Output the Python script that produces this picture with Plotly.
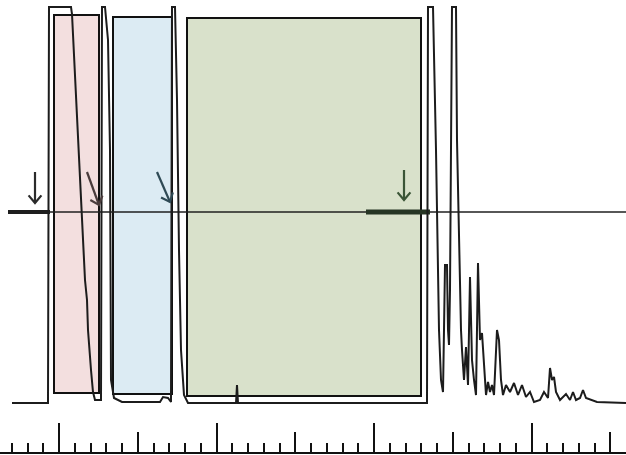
import math
import plotly.graph_objects as go

# Chromatogram trace (x: chart distance units, y: detector signal, baseline = 0)
trace_x = [12, 48, 49, 71, 72, 76, 80, 83, 85, 87, 88, 91, 93, 95, 101, 102, 105, 108, 110, 111, 114, 122,
           160, 163, 168, 171, 172, 175, 177, 179, 181, 184, 188, 236, 237, 238, 427,
           428, 433, 436, 439, 441, 443, 444, 445, 447, 448, 449, 450, 452, 456, 457, 459, 461, 462, 464,
           466, 468, 470, 472, 474, 476, 478, 480, 482, 484, 486, 488, 490, 492, 494, 497, 499, 501, 503,
           506, 510, 514, 518, 522, 526, 530, 534, 540, 544, 548, 550, 552, 554, 556, 560, 566, 570, 573,
           576, 580, 583, 586, 592, 597, 626]
trace_y = [0, 0, 396, 396, 389, 303, 233, 163, 123, 103, 73, 33, 11, 3, 3, 396, 396, 363, 253, 23, 5, 1,
           1, 6, 5, 1, 396, 396, 303, 153, 53, 8, 0, 0, 18, 0, 0,
           396, 396, 253, 73, 23, 11, 73, 138, 138, 73, 58, 113, 396, 396, 263, 153, 73, 53, 23,
           56, 18, 126, 43, 23, 8, 140, 63, 70, 33, 8, 21, 11, 18, 8, 73, 63, 23, 8,
           18, 11, 20, 8, 18, 6, 11, 1, 3, 11, 5, 35, 23, 26, 11, 3, 9, 3, 11,
           3, 5, 13, 5, 3, 1, 0]

# Highlighted fractions (x start/end, y bottom/top)
region_x0 = [54, 113, 187]
region_x1 = [99, 172, 421]
region_y0 = [10, 9, 7]
region_y1 = [388, 386, 385]
region_colors = ["#f3dfdf", "#dcebf3", "#d9e1cb"]

# Threshold / collection line
threshold_y = 191
threshold_x = [8, 626]
thick_segments = [(8, 50, "#1e1e1e", 4), (366, 430, "#263524", 5)]

# Arrow markers (tail -> head)
arrow_tail_x = [35, 87, 157, 404]
arrow_tail_y = [231, 231, 231, 233]
arrow_head_x = [35, 99, 170, 404]
arrow_head_y = [200, 198, 201, 203]
arrow_colors = ["#2b2b2b", "#4a3c3c", "#2f4a55", "#3b5537"]

# Ruler ticks
ruler_tick0 = 59
ruler_minor = 15.75
ruler_mid = 78.75
ruler_major = 157.5

fig = go.Figure()

for x0, x1, y0, y1, c in zip(region_x0, region_x1, region_y0, region_y1, region_colors):
    fig.add_shape(type="rect", x0=x0, x1=x1, y0=y0, y1=y1, xref="x", yref="y",
                  fillcolor=c, line=dict(color="#111111", width=2), layer="below")

fig.add_trace(go.Scatter(x=threshold_x, y=[threshold_y] * 2, mode="lines",
                         line=dict(color="#1f1f1f", width=1.6), hoverinfo="skip", showlegend=False))
for xs, xe, c, w in thick_segments:
    fig.add_trace(go.Scatter(x=[xs, xe], y=[threshold_y] * 2, mode="lines",
                             line=dict(color=c, width=w), hoverinfo="skip", showlegend=False))

fig.add_trace(go.Scatter(x=trace_x, y=trace_y, mode="lines",
                         line=dict(color="#1c1c1c", width=2), hoverinfo="skip", showlegend=False))

for tx, ty, hx, hy, c in zip(arrow_tail_x, arrow_tail_y, arrow_head_x, arrow_head_y, arrow_colors):
    dx, dy = hx - tx, hy - ty
    L = math.hypot(dx, dy)
    ux, uy = dx / L, dy / L
    wing = 10
    ang = math.radians(40)
    w1 = (hx - wing * (ux * math.cos(ang) - uy * math.sin(ang)), hy - wing * (uy * math.cos(ang) + ux * math.sin(ang)))
    w2 = (hx - wing * (ux * math.cos(ang) + uy * math.sin(ang)), hy - wing * (uy * math.cos(ang) - ux * math.sin(ang)))
    fig.add_trace(go.Scatter(x=[tx, hx, None, w1[0], hx, w2[0]], y=[ty, hy, None, w1[1], hy, w2[1]],
                             mode="lines", line=dict(color=c, width=2.2), hoverinfo="skip", showlegend=False))

fig.update_layout(
    width=626, height=455,
    margin=dict(l=0, r=0, t=0, b=3),
    paper_bgcolor="white", plot_bgcolor="white",
    showlegend=False,
    xaxis=dict(range=[0, 626], showgrid=False, zeroline=False, showticklabels=False,
               showline=True, linecolor="#111111", linewidth=2,
               ticks="inside", tick0=ruler_tick0, dtick=ruler_mid, ticklen=20, tickwidth=1.5, tickcolor="#111111",
               minor=dict(ticks="inside", tick0=ruler_tick0, dtick=ruler_minor, ticklen=9, tickwidth=1.5,
                          tickcolor="#111111", showgrid=False)),
    xaxis2=dict(range=[0, 626], overlaying="x", anchor="y", side="bottom", showgrid=False, zeroline=False,
                showticklabels=False, showline=False,
                ticks="inside", tick0=ruler_tick0, dtick=ruler_major, ticklen=29, tickwidth=1.5, tickcolor="#111111"),
    yaxis=dict(range=[-49, 403], showgrid=False, zeroline=False, showticklabels=False, showline=False, ticks=""),
)
# invisible trace to activate the long-tick overlay axis
fig.add_trace(go.Scatter(x=[0], y=[0], xaxis="x2", mode="markers", marker=dict(opacity=0),
                         hoverinfo="skip", showlegend=False))

fig.write_html("out.html", config={"displayModeBar": False},
               post_script="document.body.style.margin='0';document.body.style.overflow='hidden';")
